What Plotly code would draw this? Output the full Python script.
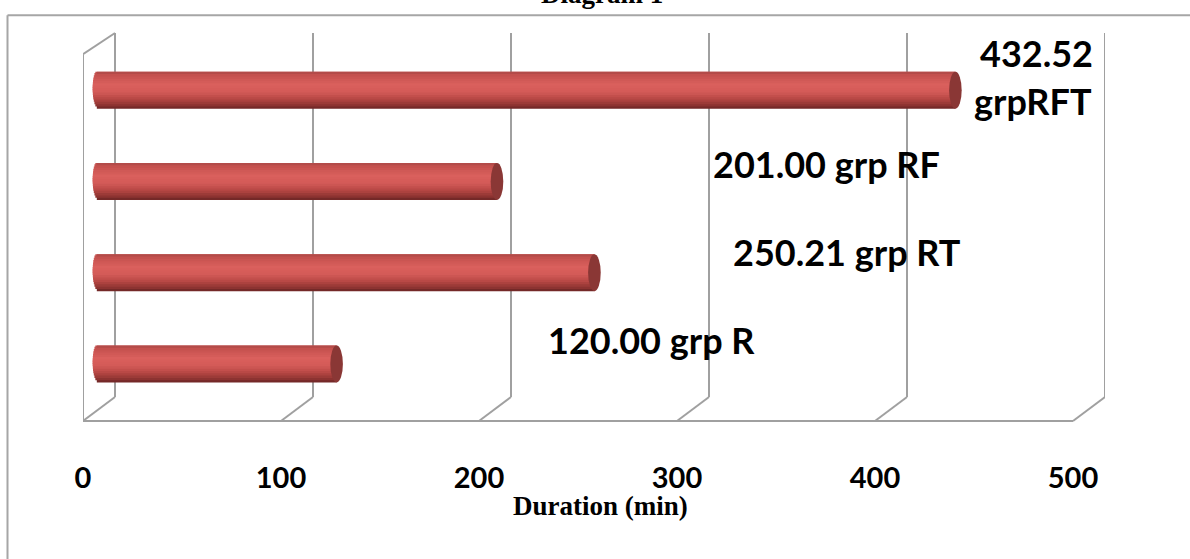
import numpy as np
import plotly.graph_objects as go

# ---- data ----
groups = ["grp R", "grp RT", "grp RF", "grpRFT"]
durations = [120.00, 250.21, 201.00, 432.52]
tick_values = [0, 100, 200, 300, 400, 500]
tick_text = ["0", "100", "200", "300", "400", "500"]
x_title = "Duration (min)"
chart_title = "Diagram 1"

# ---- page geometry (pixels) ----
W, H = 1190, 559
X_MAX = 500
PPU = 1.98                # pixels per minute along the bar plane
DEPTH_DX = 32             # horizontal depth of the 3-D box
DEPTH_DY = 24             # vertical depth of the floor
PL = 83                   # left of plot area (front corner)
PT, PB = 32.7, 421        # top of back wall, front floor edge
HD = DEPTH_DX / 2 / PPU   # half depth, in minutes
PR = PL + (X_MAX + 2 * HD) * PPU
BAR_PITCH = 91.33         # vertical distance between bar centres (px)
BAR0_Y = 364              # centre of the lowest bar (px)
BAR_H_PX = 37
CAP_RX_PX = 6.3
WALL_TOP_FRONT = 54

y_lo = -(PB - BAR0_Y) / BAR_PITCH
y_hi = (BAR0_Y - PT) / BAR_PITCH
bar_h = BAR_H_PX / BAR_PITCH
cap_rx = CAP_RX_PX / PPU
positions = list(range(len(groups)))


def xp(px):
    return (px - PL) / (PR - PL)


def yp(py):
    return (PB - py) / (PB - PT)


# ---- cylinder shading: horizontal stripes from top to bottom ----
stops = [
    (0.00, (170, 72, 70)),
    (0.10, (198, 82, 79)),
    (0.35, (218, 96, 93)),
    (0.55, (211, 90, 87)),
    (0.75, (180, 70, 67)),
    (0.90, (142, 52, 50)),
    (1.00, (104, 36, 35)),
]


def shade(t):
    for (t0, c0), (t1, c1) in zip(stops[:-1], stops[1:]):
        if t <= t1:
            f = (t - t0) / (t1 - t0)
            c = [round(a + (b - a) * f) for a, b in zip(c0, c1)]
            return f"rgb({c[0]},{c[1]},{c[2]})"
    return "rgb(%d,%d,%d)" % stops[-1][1]


N = 16
stripe = bar_h / N
fig = go.Figure()
for i in range(N):
    # i = 0 is the bottom stripe; each stripe reaches up into the next one
    # so that the stack has no seams
    s = (i + 0.5) / N * 2 - 1
    base = -cap_rx * np.sqrt(max(0.0, 1 - s * s))
    t = 1 - (i + 0.5) / N
    lo = -bar_h / 2 + i * stripe
    hi = min(bar_h / 2, lo + stripe * 2.5)
    fig.add_trace(go.Bar(
        y=positions,
        x=[v - base for v in durations],
        base=base,
        orientation="h",
        width=hi - lo,
        offset=lo,
        marker=dict(color=shade(t), line=dict(width=0)),
        hoverinfo="skip",
        showlegend=False,
    ))

# carrier for the front-plane tick labels
fig.add_trace(go.Scatter(
    x=tick_values, y=[y_lo] * len(tick_values), xaxis="x2", mode="markers",
    marker=dict(opacity=0), hoverinfo="skip", showlegend=False,
))

shapes = []
grid = dict(color="#a0a0a0", width=2)
for v in tick_values:
    # back wall gridline
    shapes.append(dict(type="line", xref="x", yref="paper", x0=v + HD, x1=v + HD,
                       y0=yp(PB - DEPTH_DY), y1=1, line=grid, layer="below"))
    # floor diagonal
    shapes.append(dict(type="line", xref="x", yref="paper", x0=v - HD, x1=v + HD,
                       y0=0, y1=yp(PB - DEPTH_DY), line=grid, layer="below"))
# front floor edge
shapes.append(dict(type="line", xref="x", yref="paper", x0=-HD, x1=X_MAX - HD,
                   y0=0, y1=0, line=grid, layer="below"))
# left side wall
shapes.append(dict(type="line", xref="x", yref="paper", x0=-HD, x1=-HD,
                   y0=0, y1=yp(WALL_TOP_FRONT), line=grid, layer="below"))
shapes.append(dict(type="line", xref="x", yref="paper", x0=-HD, x1=HD,
                   y0=yp(WALL_TOP_FRONT), y1=1, line=grid, layer="below"))

# visible end caps of the cylinders
for pos, v in zip(positions, durations):
    shapes.append(dict(type="circle", xref="x", yref="y",
                       x0=v - cap_rx, x1=v + cap_rx,
                       y0=pos - bar_h / 2, y1=pos + bar_h / 2,
                       fillcolor="#8a3735", line=dict(width=0)))

# outer chart border
border = dict(color="#a6a6a6", width=2)
shapes.append(dict(type="line", xref="paper", yref="paper",
                   x0=xp(7.5), x1=xp(W + 5), y0=yp(15), y1=yp(15), line=border))
shapes.append(dict(type="line", xref="paper", yref="paper",
                   x0=xp(7.5), x1=xp(7.5), y0=yp(15), y1=yp(H + 5), line=border))

# data label placement: one entry per text line, (x centre, y centre) in px
label_lines = [
    [(651, 340)],
    [(847, 252)],
    [(826, 164)],
    [(1036, 53), (1033, 101)],
]
label_font = dict(family="Lato", size=36, color="black", weight="bold")

annotations = []
for g, v, lines in zip(groups, durations, label_lines):
    parts = [f"{v:.2f} {g}"] if len(lines) == 1 else [f"{v:.2f}", g]
    for text, (lx, ly) in zip(parts, lines):
        annotations.append(dict(
            text=text, xref="paper", yref="paper",
            x=xp(lx), y=yp(ly), xanchor="center", yanchor="middle",
            showarrow=False, font=label_font,
        ))

serif_bold = dict(family="Liberation Serif", size=27, color="black", weight="bold")
annotations.append(dict(text=x_title, xref="paper", yref="paper",
                        x=xp(600), y=yp(506), xanchor="center", yanchor="middle",
                        showarrow=False, font=serif_bold))
annotations.append(dict(text=chart_title, xref="paper", yref="paper",
                        x=xp(602), y=yp(-6), xanchor="center", yanchor="middle",
                        showarrow=False, font=serif_bold))

fig.update_layout(
    width=W, height=H,
    margin=dict(l=PL, r=W - PR, t=PT, b=H - PB, pad=0),
    paper_bgcolor="white", plot_bgcolor="white",
    barmode="overlay",
    showlegend=False,
    xaxis=dict(range=[-HD, X_MAX + HD], showgrid=False, zeroline=False,
               showline=False, showticklabels=False, ticks=""),
    xaxis2=dict(overlaying="x", anchor="y", side="bottom",
                range=[0, X_MAX + 2 * HD], tickvals=tick_values, ticktext=tick_text,
                showgrid=False, zeroline=False, showline=False,
                ticks="outside", ticklen=31, tickcolor="rgba(0,0,0,0)",
                tickfont=dict(family="Lato", size=29, color="black", weight="bold")),
    yaxis=dict(range=[y_lo, y_hi], showgrid=False, zeroline=False,
               showline=False, showticklabels=False, ticks=""),
    shapes=shapes,
    annotations=annotations,
)

fig.write_html("out.html")
